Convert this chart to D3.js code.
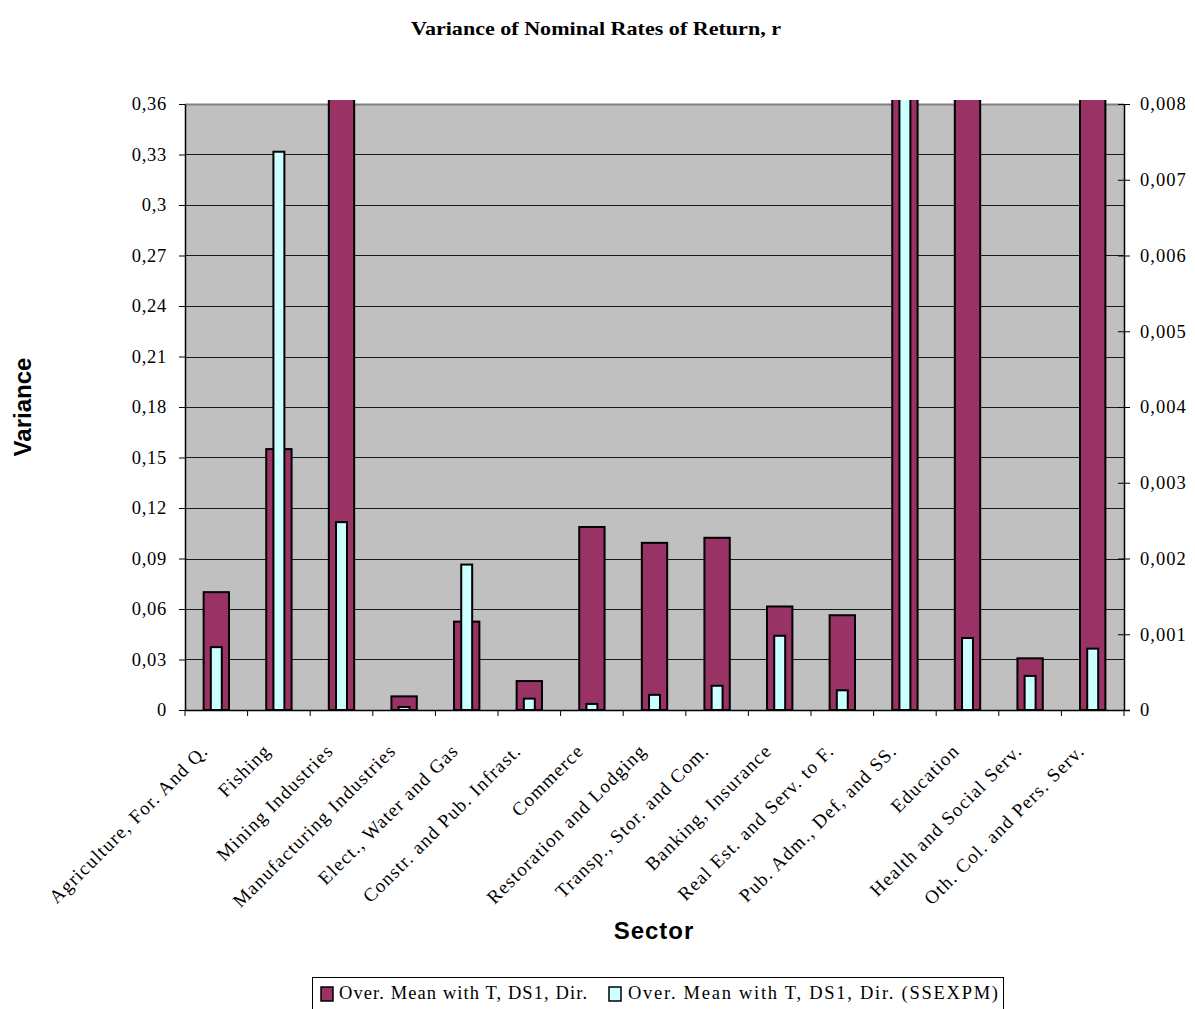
<!DOCTYPE html>
<html>
<head>
<meta charset="utf-8">
<script src="https://cdn.jsdelivr.net/npm/d3@7"></script>
<style>
  html, body { margin: 0; padding: 0; background: #fff; }
  svg { display: block; }
  .serif { font-family: "Liberation Serif", "Times New Roman", serif; }
  .sans { font-family: "Liberation Sans", Arial, sans-serif; }
</style>
</head>
<body>
<svg id="chart" width="1195" height="1009"></svg>
<script>
// ---------- data ----------
const categories = [
  "Agriculture, For. And Q.", "Fishing", "Mining Industries", "Manufacturing Industries",
  "Elect., Water and Gas", "Constr. and Pub. Infrast.", "Commerce", "Restoration and Lodging",
  "Transp., Stor. and Com.", "Banking, Insurance", "Real Est. and Serv. to F.",
  "Pub. Adm., Def, and SS.", "Education", "Health and Social Serv.", "Oth. Col. and Pers. Serv."
];
// primary (left axis) series
const seriesMain = [0.070, 0.155, 0.45, 0.0081, 0.0525, 0.0172, 0.1087, 0.0993,
                    0.1023, 0.0615, 0.0563, 0.90, 0.50, 0.0307, 0.60];
// secondary (right axis) series
const seriesSSEXPM = [0.00083, 0.00737, 0.00248, 0.00004, 0.00192, 0.00015, 0.00008, 0.00020,
                      0.00032, 0.00098, 0.00026, 0.0105, 0.00095, 0.00045, 0.00081];
const seriesNames = ["Over. Mean with T, DS1, Dir.", "Over. Mean with T, DS1, Dir. (SSEXPM)"];
const leftTickValues = [0, 0.03, 0.06, 0.09, 0.12, 0.15, 0.18, 0.21, 0.24, 0.27, 0.30, 0.33, 0.36];
const leftTickLabels = ["0", "0,03", "0,06", "0,09", "0,12", "0,15", "0,18", "0,21", "0,24", "0,27", "0,3", "0,33", "0,36"];
const rightTickValues = [0, 0.001, 0.002, 0.003, 0.004, 0.005, 0.006, 0.007, 0.008];
const rightTickLabels = ["0", "0,001", "0,002", "0,003", "0,004", "0,005", "0,006", "0,007", "0,008"];
const titleText = "Variance of Nominal Rates of Return, r";
const xTitle = "Sector";
const yTitle = "Variance";

// ---------- layout ----------
const L = 185, R = 1124, T = 104, B = 710;
const colMain = "#993366", colSec = "#CCFFFF";

const svg = d3.select("#chart");
const x = d3.scaleBand().domain(categories).range([L, R]).paddingInner(0).paddingOuter(0);
const yL = d3.scaleLinear().domain([0, 0.36]).range([B, T]);
const yR = d3.scaleLinear().domain([0, 0.008]).range([B, T]);
const bw = x.bandwidth();

// title
svg.append("text").attr("class", "serif")
  .attr("x", 596).attr("y", 35).attr("text-anchor", "middle")
  .attr("font-size", 19).attr("font-weight", "bold")
  .attr("textLength", 370).attr("lengthAdjust", "spacingAndGlyphs")
  .text(titleText);

// plot background
svg.append("rect").attr("x", L).attr("y", T).attr("width", R - L).attr("height", B - T)
  .attr("fill", "#C0C0C0");

// gridlines
svg.append("g").selectAll("line").data(leftTickValues.filter(d => d > 0)).join("line")
  .attr("x1", L).attr("x2", R)
  .attr("y1", d => Math.round(yL(d)) + 0.5).attr("y2", d => Math.round(yL(d)) + 0.5)
  .attr("stroke", d => d === 0.36 ? "#808080" : "#1a1a1a")
  .attr("stroke-width", d => d === 0.36 ? 2 : 1);

// clip
svg.append("clipPath").attr("id", "clip").append("rect")
  .attr("x", L).attr("y", T - 4).attr("width", R - L).attr("height", B - T + 6);

const bars = svg.append("g").attr("clip-path", "url(#clip)");
const wMain = bw * 0.405, wSec = bw * 0.175;
bars.selectAll("rect.main").data(categories).join("rect").attr("class", "main")
  .attr("x", (d) => x(d) + bw / 2 - wMain / 2)
  .attr("width", wMain)
  .attr("y", (d, i) => yL(seriesMain[i]))
  .attr("height", (d, i) => B - yL(seriesMain[i]))
  .attr("fill", colMain).attr("stroke", "#000").attr("stroke-width", 2);
bars.selectAll("rect.sec").data(categories).join("rect").attr("class", "sec")
  .attr("x", (d) => x(d) + bw / 2 - wSec / 2)
  .attr("width", wSec)
  .attr("y", (d, i) => yR(seriesSSEXPM[i]))
  .attr("height", (d, i) => B - yR(seriesSSEXPM[i]))
  .attr("fill", colSec).attr("stroke", "#000").attr("stroke-width", 2);

// left axis
const axL = d3.axisLeft(yL).tickValues(leftTickValues)
  .tickFormat((d, i) => leftTickLabels[i]).tickSizeInner(6).tickSizeOuter(0).tickPadding(12);
const gL = svg.append("g").attr("transform", `translate(${L},0)`).call(axL);
gL.select(".domain").attr("stroke", "#000").attr("stroke-width", 1.5);
gL.selectAll(".tick line").attr("stroke", "#000");
gL.selectAll("text").attr("class", "serif").attr("font-size", 18.5).attr("fill", "#000")
  .style("letter-spacing", "0.7px");

// right axis
const axR = d3.axisRight(yR).tickValues(rightTickValues)
  .tickFormat((d, i) => rightTickLabels[i]).tickSizeInner(6).tickSizeOuter(0).tickPadding(10);
const gR = svg.append("g").attr("transform", `translate(${R},0)`).call(axR);
gR.select(".domain").attr("stroke", "#000").attr("stroke-width", 1.5);
gR.selectAll(".tick line").attr("x1", -6).attr("x2", 6).attr("stroke", "#000");
gR.selectAll("text").attr("class", "serif").attr("font-size", 18.5).attr("fill", "#000")
  .style("letter-spacing", "1px");

// bottom axis
svg.append("line").attr("x1", L).attr("x2", R + 6).attr("y1", B + 0.5).attr("y2", B + 0.5)
  .attr("stroke", "#000").attr("stroke-width", 1.5);
const bounds = categories.map(c => x(c)).concat([R]);
svg.append("g").selectAll("line").data(bounds).join("line")
  .attr("x1", d => d).attr("x2", d => d).attr("y1", B).attr("y2", B + 6)
  .attr("stroke", "#000");

// category labels
svg.append("g").selectAll("text").data(categories).join("text")
  .attr("class", "serif").attr("font-size", 19).attr("fill", "#000")
  .style("letter-spacing", "1.2px")
  .attr("text-anchor", "end")
  .attr("transform", d => `translate(${x(d) + bw / 2 - 7},${752}) rotate(-45)`)
  .text(d => d);

// axis titles
svg.append("text").attr("class", "sans").attr("font-size", 24).attr("font-weight", "bold")
  .attr("text-anchor", "middle").attr("transform", "translate(31,407) rotate(-90)")
  .text(yTitle);
svg.append("text").attr("class", "sans").attr("font-size", 24).attr("font-weight", "bold")
  .attr("text-anchor", "middle").attr("x", 654).attr("y", 939)
  .style("letter-spacing", "1px")
  .text(xTitle);

// legend
const lg = svg.append("g");
lg.append("rect").attr("x", 312.5).attr("y", 977.5).attr("width", 691).attr("height", 45)
  .attr("fill", "#fff").attr("stroke", "#000").attr("stroke-width", 1);
const legItems = [
  { name: seriesNames[0], color: colMain, sx: 321, tx: 339, len: 248 },
  { name: seriesNames[1], color: colSec, sx: 609, tx: 628, len: 370 }
];
legItems.forEach(it => {
  lg.append("rect").attr("x", it.sx).attr("y", 987).attr("width", 12).attr("height", 14)
    .attr("fill", it.color).attr("stroke", "#000").attr("stroke-width", 1.5);
  lg.append("text").attr("class", "serif").attr("font-size", 18.5).attr("x", it.tx).attr("y", 999)
    .attr("textLength", it.len).attr("lengthAdjust", "spacing").text(it.name);
});
</script>
</body>
</html>
